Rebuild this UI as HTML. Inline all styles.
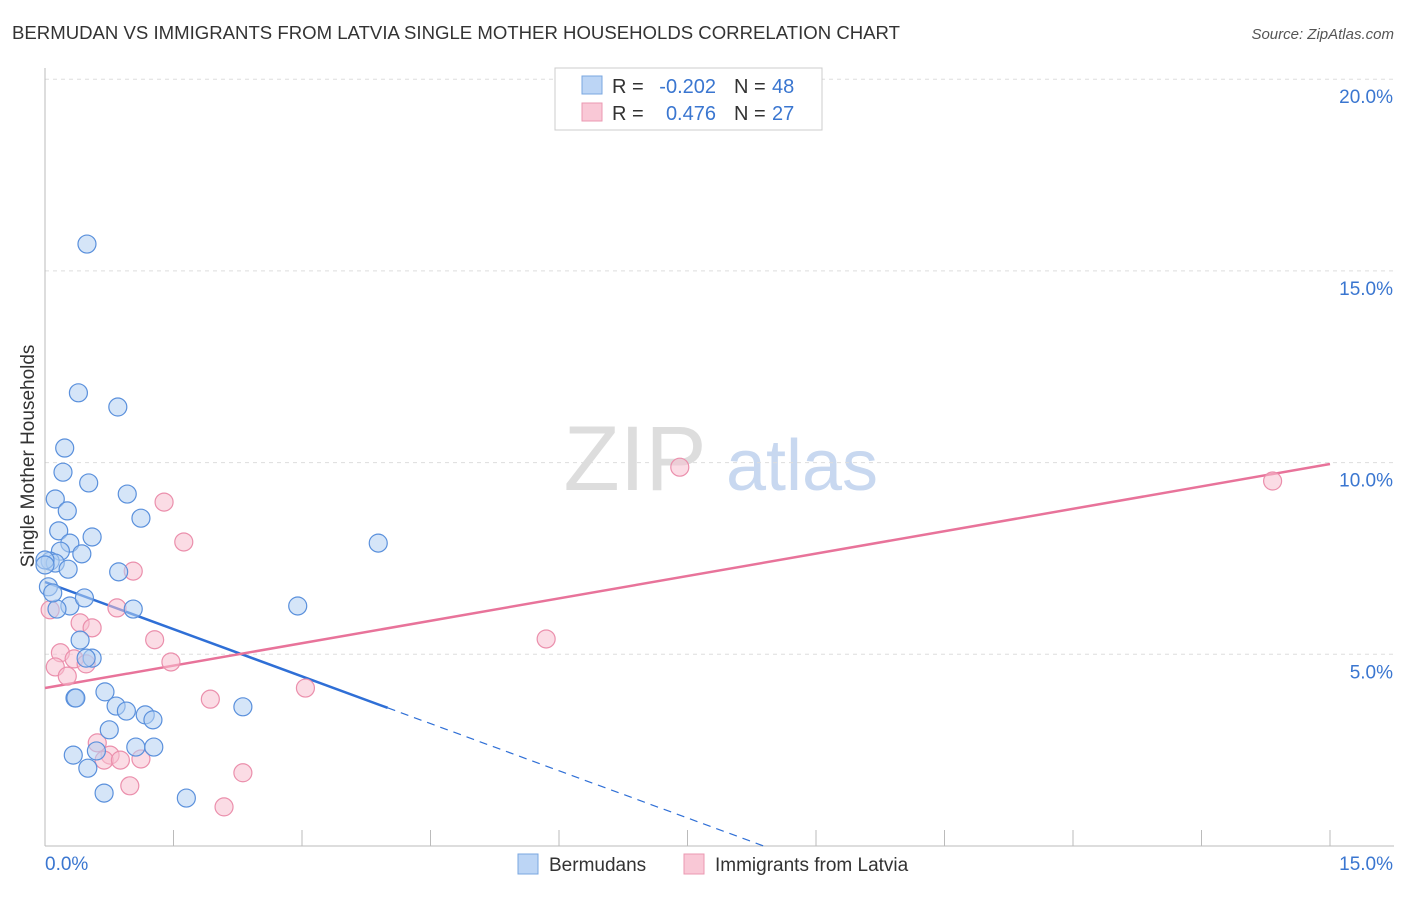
<!DOCTYPE html>
<html><head><meta charset="utf-8"><style>
body{margin:0;background:#fff;font-family:"Liberation Sans",sans-serif;}
svg text{font-family:"Liberation Sans",sans-serif;}
</style></head><body>
<svg id="chart" width="1406" height="892">
<text x="12" y="39" font-size="18" fill="#333" textLength="888" lengthAdjust="spacingAndGlyphs">BERMUDAN VS IMMIGRANTS FROM LATVIA SINGLE MOTHER HOUSEHOLDS CORRELATION CHART</text>
<text x="1394" y="39" font-size="15" fill="#555" font-style="italic" text-anchor="end">Source: ZipAtlas.com</text>
<text x="34" y="456" font-size="19" fill="#333" text-anchor="middle" transform="rotate(-90 34 456)">Single Mother Households</text>
<g><text x="635" y="490" font-size="92" fill="#ddd" font-family="Liberation Serif" text-anchor="middle">ZIP</text><text x="802" y="490" font-size="72" fill="#c8d8f0" text-anchor="middle">atlas</text></g>
<g id="grid"></g><g id="axes"></g><g id="lines"></g><g id="pts"></g>
<g>
<rect x="555" y="68" width="267" height="62" fill="#fff" stroke="#ccc"/>
<rect x="582" y="76" width="20" height="18" fill="#bcd5f5" stroke="#7aa7e0"/>
<rect x="582" y="103" width="20" height="18" fill="#f9c8d6" stroke="#eb98b2"/>
<text x="612" y="93" font-size="20" fill="#333">R =</text>
<text x="716" y="93" font-size="20" fill="#3a76d0" text-anchor="end">-0.202</text>
<text x="734" y="93" font-size="20" fill="#333">N =</text>
<text x="772" y="93" font-size="20" fill="#3a76d0">48</text>
<text x="612" y="120" font-size="20" fill="#333">R =</text>
<text x="716" y="120" font-size="20" fill="#3a76d0" text-anchor="end">0.476</text>
<text x="734" y="120" font-size="20" fill="#333">N =</text>
<text x="772" y="120" font-size="20" fill="#3a76d0">27</text>
</g>
<g>
<rect x="518" y="854" width="20" height="20" fill="#bcd5f5" stroke="#7aa7e0"/>
<text x="549" y="871" font-size="19" fill="#333">Bermudans</text>
<rect x="684" y="854" width="20" height="20" fill="#f9c8d6" stroke="#eb98b2"/>
<text x="715" y="871" font-size="19" fill="#333">Immigrants from Latvia</text>
</g>
</svg>
<script>
const yTicks=[5,10,15,20];
const yTickLabels=["5.0%","10.0%","15.0%","20.0%"];
const xTickLabels=["0.0%","15.0%"];
const blueX=[0.49,0.39,0.85,0.23,0.21,0.51,0.96,0.12,0.26,1.12,0.16,0.55,0.29,0.18,0.43,0.06,0.12,0.27,0.86,0.04,0.29,0.14,0.46,1.03,2.95,3.89,0.41,0.55,0.48,0.70,0.35,0.36,0.83,0.95,1.17,1.26,2.31,0.75,1.06,1.27,0.60,0.33,0.50,0.69,1.65,0.09,0.00,0.00];
const blueY=[15.70,11.82,11.45,10.38,9.75,9.47,9.18,9.05,8.74,8.55,8.22,8.06,7.90,7.69,7.62,7.43,7.38,7.22,7.15,6.76,6.26,6.18,6.47,6.18,6.26,7.90,5.37,4.90,4.90,4.02,3.86,3.86,3.65,3.52,3.42,3.29,3.63,3.03,2.58,2.58,2.48,2.37,2.03,1.38,1.25,6.60,7.46,7.33];
const pinkX=[7.41,14.33,1.39,1.62,1.03,0.84,0.06,0.41,0.55,1.28,5.85,0.18,0.34,0.48,1.47,0.12,0.26,3.04,1.93,0.61,0.76,0.69,0.88,1.12,0.99,2.31,2.09];
const pinkY=[9.88,9.52,8.97,7.93,7.17,6.21,6.16,5.82,5.69,5.38,5.40,5.04,4.88,4.75,4.80,4.67,4.43,4.12,3.83,2.69,2.37,2.24,2.24,2.27,1.57,1.91,1.02];
const blueFit=[6.886,-0.8207], pinkFit=[4.121,0.3895];
const X=v=>45+v/15*1285, Y=v=>846-v/5*191.7;
const NS="http://www.w3.org/2000/svg";
function mk(t,a,p){const e=document.createElementNS(NS,t);for(const k in a)e.setAttribute(k,a[k]);p.appendChild(e);return e;}
const grid=document.getElementById('grid'),axes=document.getElementById('axes'),lines=document.getElementById('lines'),pts=document.getElementById('pts');
yTicks.forEach((t,i)=>{
 const g=mk('line',{x1:45,x2:1394,y1:Y(t),y2:Y(t),stroke:'#ddd','stroke-dasharray':'4 4'},grid);
 
 
 const l=mk('text',{x:1393,y:Y(t)+24,'font-size':19,fill:'#3a76d0','text-anchor':'end'},axes);l.textContent=yTickLabels[i];
 
 
});
mk('line',{x1:45,x2:45,y1:68,y2:846,stroke:'#bbb'},axes);
mk('line',{x1:45,x2:1394,y1:846,y2:846,stroke:'#bbb'},axes);
for(let i=1;i<=10;i++){mk('line',{x1:X(i*1.5),x2:X(i*1.5),y1:830,y2:846,stroke:'#bbb'},axes);}
const xl0=mk('text',{x:45,y:870,'font-size':19,fill:'#3a76d0'},axes);xl0.textContent=xTickLabels[0];


const xl1=mk('text',{x:1393,y:870,'font-size':19,fill:'#3a76d0','text-anchor':'end'},axes);xl1.textContent=xTickLabels[1];


function dots(xs,ys,fill,stroke,name){xs.forEach((x,i)=>{const c=mk('circle',{cx:X(x),cy:Y(ys[i]),r:9,fill:fill,'fill-opacity':0.55,stroke:stroke,'stroke-width':1.2},pts);
 
 });}
dots(pinkX,pinkY,'#f7bfd0','#eb8fac','latvia-point');
dots(blueX,blueY,'#b3cff3','#5a90dc','bermudan-point');
const bEnd=4.0, bZero=-blueFit[0]/blueFit[1];
const b1=mk('line',{x1:X(0),y1:Y(blueFit[0]),x2:X(bEnd),y2:Y(blueFit[0]+blueFit[1]*bEnd),stroke:'#2f6fd6','stroke-width':2.5},lines);


const b2=mk('line',{x1:X(bEnd),y1:Y(blueFit[0]+blueFit[1]*bEnd),x2:X(bZero),y2:Y(0),stroke:'#2f6fd6','stroke-width':1.2,'stroke-dasharray':'8 6'},lines);


const p1=mk('line',{x1:X(0),y1:Y(pinkFit[0]),x2:X(15),y2:Y(pinkFit[0]+pinkFit[1]*15),stroke:'#e8739a','stroke-width':2.5},lines);


</script>
</body></html>
